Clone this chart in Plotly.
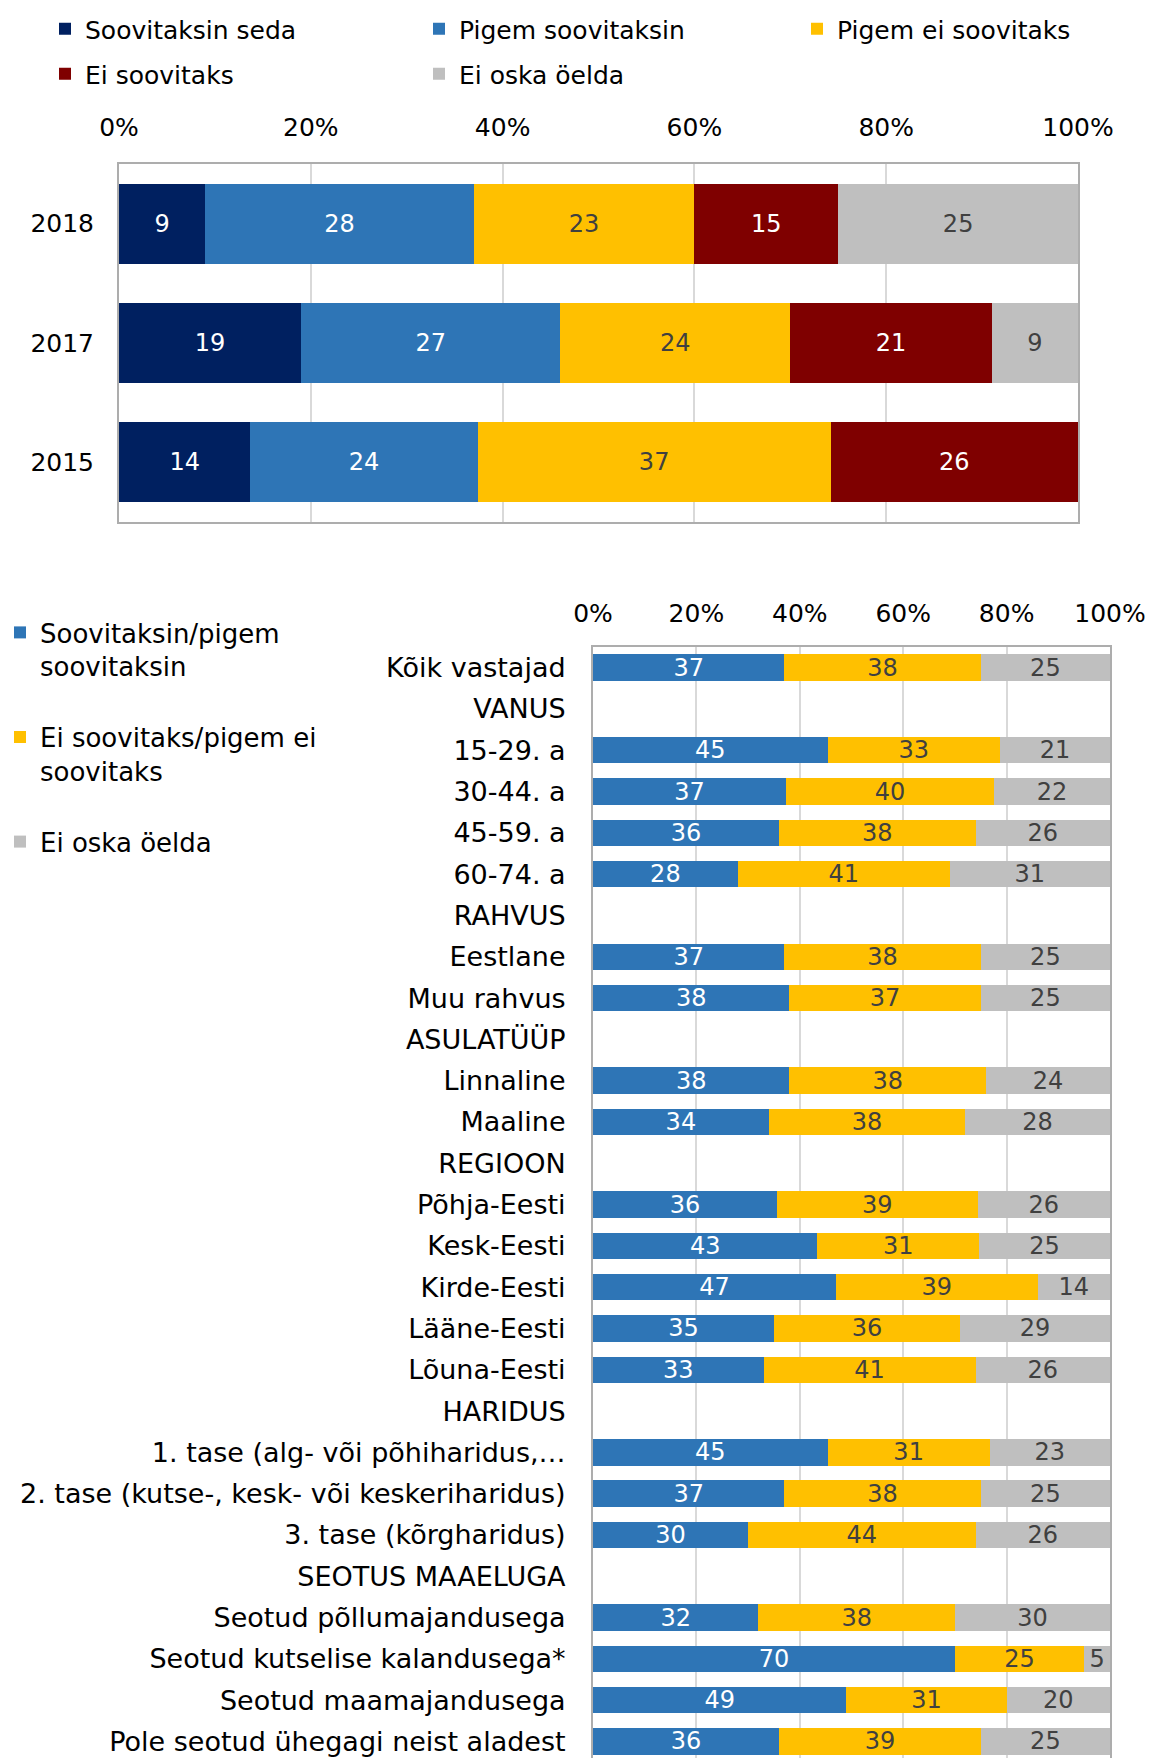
import plotly.graph_objects as go

# --- ülemine joonis: aastate võrdlus (osakaal, %) ---
years = ["2018", "2017", "2015"]
soovitaksin_seda = [9, 19, 13.7]
pigem_soovitaksin = [28, 27, 23.7]
pigem_ei_soovitaks = [23, 24, 36.8]
ei_soovitaks = [15, 21, 25.8]
ei_oska_aastad = [25, 9, None]

# --- alumine joonis: 2018 rühmade kaupa ---
groups = [
    "Kõik vastajad", "VANUS", "15-29. a", "30-44. a", "45-59. a", "60-74. a",
    "RAHVUS", "Eestlane", "Muu rahvus", "ASULATÜÜP", "Linnaline", "Maaline",
    "REGIOON", "Põhja-Eesti", "Kesk-Eesti", "Kirde-Eesti", "Lääne-Eesti", "Lõuna-Eesti",
    "HARIDUS", "1. tase (alg- või põhiharidus,…", "2. tase (kutse-, kesk- või keskeriharidus)",
    "3. tase (kõrgharidus)", "SEOTUS MAAELUGA", "Seotud põllumajandusega",
    "Seotud kutselise kalandusega*", "Seotud maamajandusega", "Pole seotud ühegagi neist aladest",
]
soovitaksin_koond = [37, None, 45.4, 37.3, 36, 28, None, 37, 38, None, 38, 34,
                     None, 35.6, 43.4, 47, 35, 33, None, 45.4, 37, 30, None, 32, 70, 49, 36]
ei_soovitaks_koond = [38, None, 33.3, 40.3, 38, 41, None, 38, 37, None, 38, 38,
                      None, 38.8, 31.3, 39, 36, 41, None, 31.3, 38, 44, None, 38, 25, 31, 39]
ei_oska_koond = [25, None, 21.3, 22.4, 26, 31, None, 25, 25, None, 24, 28,
                 None, 25.6, 25.3, 14, 29, 26, None, 23.3, 25, 26, None, 30, 5, 20, 25]

FONT = "Verdana, DejaVu Sans, sans-serif"
NAVY, BLUE, YELLOW, RED, GREY = "#002060", "#2E75B6", "#FFC000", "#7F0000", "#BFBFBF"
DARK_TXT = "#404040"

fig = go.Figure()

top_series = [
    ("Soovitaksin seda", soovitaksin_seda, NAVY, "white", "legend"),
    ("Pigem soovitaksin", pigem_soovitaksin, BLUE, "white", "legend"),
    ("Pigem ei soovitaks", pigem_ei_soovitaks, YELLOW, DARK_TXT, "legend4"),
    ("Ei soovitaks", ei_soovitaks, RED, "white", "legend3"),
    ("Ei oska öelda", ei_oska_aastad, GREY, DARK_TXT, "legend3"),
]
for name, vals, color, tcol, leg in top_series:
    fig.add_trace(go.Bar(
        x=vals, y=years, name=name, orientation="h", width=0.67,
        marker=dict(color=color, line=dict(width=0)),
        texttemplate="%{x:.0f}", textposition="inside", insidetextanchor="middle", textangle=0,
        textfont=dict(color=tcol, size=24, family=FONT),
        xaxis="x", yaxis="y", legend=leg,
    ))

bottom_series = [
    ("Soovitaksin/pigem<br>soovitaksin", soovitaksin_koond, BLUE, "white", "a"),
    ("Ei soovitaks/pigem ei<br>soovitaks", ei_soovitaks_koond, YELLOW, DARK_TXT, "b"),
    ("Ei oska öelda", ei_oska_koond, GREY, DARK_TXT, "c"),
]
for name, vals, color, tcol, grp in bottom_series:
    fig.add_trace(go.Bar(
        x=vals, y=groups, name=name, orientation="h", width=0.64,
        marker=dict(color=color, line=dict(width=0)),
        texttemplate="%{x:.0f}", textposition="inside", insidetextanchor="middle", textangle=0,
        textfont=dict(color=tcol, size=24, family=FONT),
        xaxis="x2", yaxis="y2", legend="legend2", legendgroup=grp,
    ))

W, H = 1151, 1758
grid = dict(showgrid=True, gridcolor="#D9D9D9", gridwidth=2, zeroline=False,
            showline=True, linecolor="#ADADAD", linewidth=2, mirror=True,
            range=[0, 100], dtick=20, ticksuffix="%", side="top", ticks="",
            automargin=False,
            tickfont=dict(size=25, color="#000000", family=FONT), fixedrange=True)
top_legend = dict(orientation="h", xanchor="left", yanchor="top",
                  font=dict(size=25, family=FONT), traceorder="normal")

fig.update_layout(
    width=W, height=H,
    margin=dict(l=0, r=0, t=0, b=0),
    paper_bgcolor="white", plot_bgcolor="white",
    font=dict(family=FONT, size=24, color="#000000"),
    barmode="stack",
    uniformtext=dict(minsize=24, mode="show"),
    xaxis=dict(domain=[119 / W, 1078 / W], anchor="y", ticklabelstandoff=16, **grid),
    yaxis=dict(domain=[1 - 522 / H, 1 - 164 / H], anchor="x", type="category",
               autorange="reversed", showline=True, linecolor="#ADADAD", linewidth=2,
               mirror=True, ticks="", ticklabelstandoff=18, automargin=False,
               tickfont=dict(size=25, color="#000000", family=FONT)),
    xaxis2=dict(domain=[593 / W, 1110 / W], anchor="y2", ticklabelstandoff=13, **grid),
    yaxis2=dict(domain=[0, 1 - 647 / H], anchor="x2", type="category",
                range=[26.4, -0.5], showline=True, linecolor="#ADADAD", linewidth=2,
                mirror=True, ticks="", ticklabelstandoff=20, automargin=False,
                tickfont=dict(size=27, color="#000000", family=FONT)),
    legend=dict(x=45 / W, y=1 - 6 / H, entrywidth=329, **top_legend),
    legend4=dict(x=797 / W, y=1 - 6 / H, **top_legend),
    legend3=dict(x=45 / W, y=1 - 51 / H, entrywidth=329, **top_legend),
    legend2=dict(orientation="v", x=0, y=1 - 609 / H, xanchor="left", yanchor="top",
                 valign="top", tracegroupgap=34, traceorder="grouped",
                 font=dict(size=26, family=FONT)),
    showlegend=True,
)

fig.write_html("out.html", config={"displayModeBar": False},
               post_script="document.body.style.margin='0px';")
